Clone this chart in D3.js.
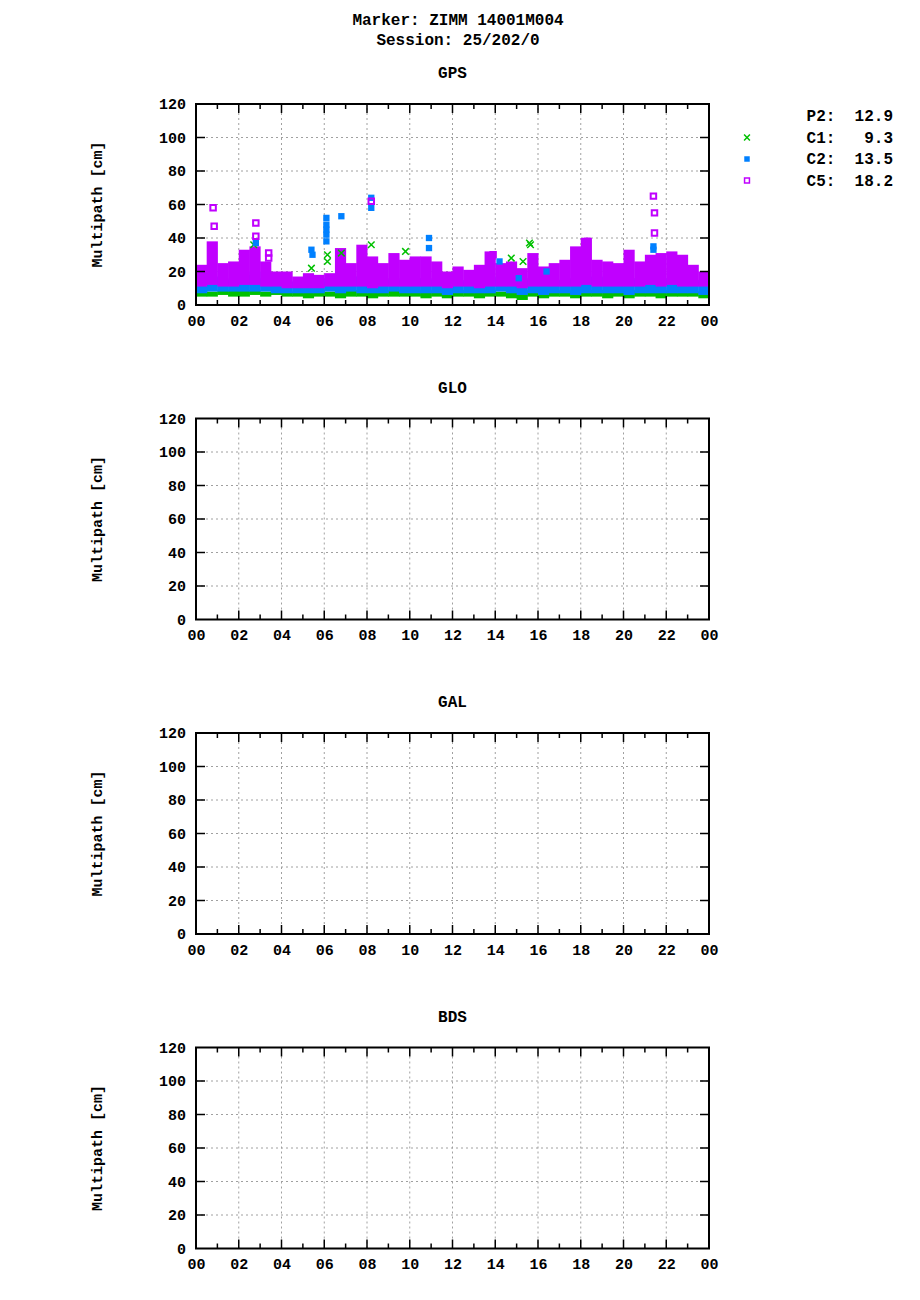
<!DOCTYPE html>
<html><head><meta charset="utf-8">
<script src="https://cdn.jsdelivr.net/npm/d3@7"></script>
<style>body{margin:0;background:#fff}</style></head>
<body><svg id="c" width="920" height="1300"></svg>
<script>
const titleLines = ["Marker: ZIMM 14001M004", "Session: 25/202/0"];
const panels = ["GPS", "GLO", "GAL", "BDS"];
const xTickLabels = ["00","02","04","06","08","10","12","14","16","18","20","22","00"];
const yTicks = [0,20,40,60,80,100,120];
const legendNames = ["P2","C1","C2","C5"];
const legendValues = ["12.9","9.3","13.5","18.2"];
const colors = ["#ff0000","#00c000","#0080ff","#c000ff"];
// half-hour bin starts
const binStart = d3.range(0, 24, 0.5);
// band low / high per half-hour bin (cm), GPS
const c1Low  = [5,5,6,5,5,6,5,6,5,5,4,5,5,4,5,5,4,5,5,5,5,4,5,4,5,5,4,5,5,4,3,5,4,5,5,4,5,5,4,5,4,5,5,4,5,5,5,4];
const c1High = [9,8,9,9,9,9,8,9,8,8,8,9,8,8,9,8,8,8,9,8,8,9,8,8,9,8,9,9,8,9,8,9,8,8,9,8,9,8,9,8,8,9,9,8,9,8,8,8];
const c2Low  = [7,8,8,8,8,8,8,7,7,7,7,7,8,7,8,7,7,7,8,7,7,7,7,6,7,7,7,7,8,7,6,7,6,7,7,6,7,7,7,7,6,7,7,7,7,7,7,6];
const c2High = [16,17,16,15,18,20,16,15,14,14,15,14,16,18,17,17,16,15,16,15,16,16,15,14,15,14,15,17,15,16,15,16,15,15,15,16,17,16,17,16,15,16,16,15,16,16,15,14];
const c5Low  = [11,12,11,11,12,12,11,11,10,10,10,10,11,11,11,11,10,11,11,11,11,11,11,10,11,11,10,11,11,11,10,11,11,11,11,11,12,11,11,11,11,11,12,11,12,11,11,11];
const c5High = [24,38,25,26,33,35,26,20,20,17,19,18,19,34,25,36,29,25,31,27,29,29,26,20,23,21,24,32,25,26,22,31,23,25,27,35,40,27,26,25,33,26,30,31,32,30,24,20];
// outliers [hour, cm]
const p2Out = [[2.7,39],[6.1,34],[6.15,38],[6.8,44],[8.2,52],[8.2,47],[8.2,44],[9.8,43],[14.8,48],[14.8,45],[14.8,38],[14.85,31],[15.6,57],[15.62,56],[16.8,21]];
const c1Out = [[2.7,36],[5.4,22],[6.15,30],[6.15,26],[6.8,31],[8.2,36],[9.8,32],[14.75,28],[15.3,26],[15.6,37],[15.65,36]];
const c2Out = [[2.8,37],[5.4,33],[5.45,30],[6.1,52],[6.1,48],[6.1,45],[6.1,42],[6.1,38],[6.8,53],[8.2,64],[8.2,58],[10.9,40],[10.9,34],[14.2,26],[15.1,16],[16.4,20],[21.4,35],[21.4,33]];
const c5Out = [[0.8,58],[0.85,47],[2.8,49],[2.8,41],[3.4,31],[3.4,28],[8.2,62],[13.9,30],[18.3,38],[21.4,65],[21.45,55],[21.45,43]];

const svg = d3.select("#c");
const F = "'Liberation Mono','DejaVu Sans Mono',monospace";
svg.selectAll("text.t").data(titleLines).enter().append("text")
  .attr("x", 458).attr("y", (d,i)=>25+i*20).attr("text-anchor","middle")
  .attr("font-family",F).attr("font-weight","bold").attr("font-size",16).text(d=>d);

const L=196, R=709;
const x = d3.scaleLinear().domain([0,24]).range([L,R]);
panels.forEach((name,pi)=>{
  const off = pi*314.5;
  const y = d3.scaleLinear().domain([0,120]).range([305+off,104+off]);
  const g = svg.append("g");
  g.append("text").attr("x",(L+R)/2).attr("y",78+off).attr("text-anchor","middle")
   .attr("font-family",F).attr("font-weight","bold").attr("font-size",16).text(name);
  // grid
  g.selectAll("line.gx").data(d3.range(2,24,2)).enter().append("line")
   .attr("x1",d=>x(d)).attr("x2",d=>x(d)).attr("y1",y(0)).attr("y2",y(120))
   .attr("stroke","#a0a0a0").attr("stroke-dasharray","2,3");
  g.selectAll("line.gy").data(yTicks.slice(1,-1)).enter().append("line")
   .attr("x1",L).attr("x2",R).attr("y1",d=>y(d)).attr("y2",d=>y(d))
   .attr("stroke","#a0a0a0").attr("stroke-dasharray","2,3");
  if(pi===0){
    const bw = x(0.5)-x(0);
    const bands=[[c1Low,c1High,1],[c2Low,c2High,2],[c5Low,c5High,3]];
    bands.forEach(([lo,hi,ci])=>{
      g.selectAll(null).data(binStart).enter().append("rect")
       .attr("x",d=>x(d)).attr("width",bw+0.5)
       .attr("y",(d,i)=>y(hi[i])).attr("height",(d,i)=>y(lo[i])-y(hi[i]))
       .attr("fill",colors[ci]);
    });
    const sym=[d3.symbolPlus,d3.symbolX,d3.symbolSquare,d3.symbolSquare];
    [p2Out,c1Out,c2Out,c5Out].forEach((pts,ci)=>{
      g.selectAll(null).data(pts).enter().append("path")
       .attr("transform",d=>`translate(${x(d[0])},${y(d[1])})`)
       .attr("d",d3.symbol().type(sym[ci]).size(ci===2?40:30)())
       .attr("fill",ci===3?"none":colors[ci])
       .attr("stroke",ci===3||ci===1?colors[ci]:"none").attr("stroke-width",ci===1?1.5:2);
    });
  }
  // frame
  g.append("rect").attr("x",L).attr("y",y(120)).attr("width",R-L).attr("height",y(0)-y(120))
   .attr("fill","none").attr("stroke","#000").attr("stroke-width",2);
  const xb = d3.axisBottom(x).tickValues(d3.range(0,25,2)).tickFormat((d,i)=>xTickLabels[i]).tickSize(0).tickPadding(10);
  const ax = g.append("g").attr("transform",`translate(0,${y(0)})`).call(xb);
  ax.select(".domain").remove();
  ax.selectAll("text").attr("font-family",F).attr("font-weight","bold").attr("font-size",15).attr("fill","#000");
  const ay = g.append("g").attr("transform",`translate(${L},0)`).call(d3.axisLeft(y).tickValues(yTicks).tickSize(0).tickPadding(10));
  ay.select(".domain").remove();
  ay.selectAll("text").attr("font-family",F).attr("font-weight","bold").attr("font-size",15).attr("fill","#000");
  // ticks
  const hours=d3.range(1,24);
  [y(0),y(120)].forEach((yy,k)=>{
    g.selectAll(null).data(hours).enter().append("line")
     .attr("x1",d=>x(d)).attr("x2",d=>x(d)).attr("y1",yy).attr("y2",d=>yy+(k?1:-1)*(d%2?5:9))
     .attr("stroke","#000").attr("stroke-width",1.5);
  });
  [[L,1],[R,-1]].forEach(([xx,s])=>{
    g.selectAll(null).data(yTicks.slice(1,-1)).enter().append("line")
     .attr("x1",xx).attr("x2",xx+s*9).attr("y1",d=>y(d)).attr("y2",d=>y(d))
     .attr("stroke","#000").attr("stroke-width",1.5);
  });
  g.append("text").attr("transform",`translate(102,${y(60)}) rotate(-90)`).attr("text-anchor","middle")
   .attr("font-family",F).attr("font-weight","bold").attr("font-size",15).text("Multipath [cm]");
});
// legend
legendNames.forEach((n,i)=>{
  const yy=116+i*21.5;
  const sym=[d3.symbolPlus,d3.symbolX,d3.symbolSquare,d3.symbolSquare][i];
  svg.append("path").attr("transform",`translate(747,${yy})`).attr("d",d3.symbol().type(sym).size(i===2?30:24)())
   .attr("fill",i===3?"none":colors[i]).attr("stroke",i===3||i===1?colors[i]:"none").attr("stroke-width",1.5);
  svg.append("text").attr("x",893).attr("y",yy+5).attr("text-anchor","end").attr("xml:space","preserve")
   .attr("font-family",F).attr("font-weight","bold").attr("font-size",16)
   .text(`${n}: ${legendValues[i].padStart(5," ")}`);
});
</script></body></html>
